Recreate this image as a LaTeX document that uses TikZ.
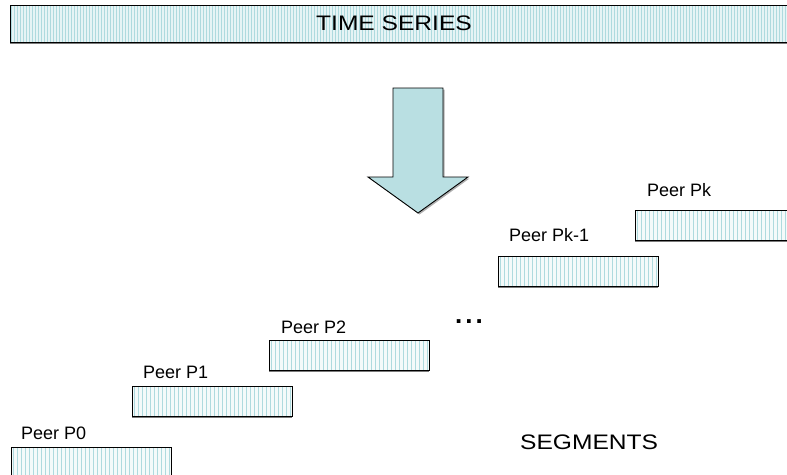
\documentclass[tikz,border=0pt]{standalone}
\usepackage{fontspec}
\setmainfont{Liberation Sans}
\newfontfamily\widesans[FakeStretch=1.17]{Liberation Sans}
\usetikzlibrary{shadows}
\definecolor{stripe}{HTML}{AEDADE}
\definecolor{lightfill}{HTML}{E6F4F5}
\definecolor{segfill}{HTML}{F4FAFA}
\definecolor{arrowfill}{HTML}{B9DFE2}
\definecolor{shadowgray}{HTML}{7A7A7A}
\tikzset{
  stripes/.style n args={3}{path picture={
      \foreach \i in {#1,#2,...,800}
        \draw[stripe, line width=#3]
          ([xshift=\i pt]path picture bounding box.north west) --
          ([xshift=\i pt]path picture bounding box.south west);}},
  segbox/.style={draw=black, line width=0.9pt, fill=segfill, minimum width=160pt, minimum height=30pt,
    inner sep=0pt, outer sep=0pt, anchor=north west,
    drop shadow={shadow xshift=0pt, shadow yshift=-1.6pt, fill=shadowgray, opacity=1},
    stripes={2.5}{6.5}{1.2pt}},
  peerlabel/.style={anchor=base west, inner sep=0pt, font=\fontsize{18}{20}\selectfont},
  bigtext/.style={inner sep=0pt, font=\widesans\fontsize{21}{24}\selectfont}
}
\begin{document}
\begin{tikzpicture}[x=1pt,y=-1pt]
\useasboundingbox (0,0) rectangle (787,474);
\clip (0,0) rectangle (787,474);
% top bar
\node[draw=black, line width=0.9pt, fill=lightfill, minimum width=790pt, minimum height=37pt,
  inner sep=0pt, outer sep=0pt, anchor=north west,
  drop shadow={shadow xshift=0pt, shadow yshift=-1.8pt, fill=shadowgray, opacity=1},
  stripes={1.5}{4.5}{1.0pt}] (bar) at (10,5) {};
\node[bigtext, anchor=base] (ts) at (394,30) {TIME SERIES};
% arrow
\fill[shadowgray!60] (394.5,89.5) -- (444.5,89.5) -- (444.5,178.5) -- (469.5,178.5) -- (419.5,214.5) -- (369.5,178.5) -- (394.5,178.5) -- cycle;
\draw[fill=arrowfill, line width=0.9pt, line join=miter] (393,88) -- (443,88) -- (443,177) -- (468,177) -- (418,213) -- (368,177) -- (393,177) -- cycle;
% segments
\node[segbox] (s0) at (11,447) {};
\node[segbox] (s1) at (132,386) {};
\node[segbox] (s2) at (269,340) {};
\node[segbox] (sk1) at (498,256) {};
\node[segbox] (sk) at (635,210) {};
% labels
\node[peerlabel] (l0) at (21,439) {Peer P0};
\node[peerlabel] (l1) at (143,378) {Peer P1};
\node[peerlabel] (l2) at (281,333) {Peer P2};
\node[peerlabel] (lk1) at (509,241) {Peer Pk-1};
\node[peerlabel] (lk) at (647,196) {Peer Pk};
\node[anchor=base, inner sep=0pt, font=\bfseries\fontsize{26}{28}\selectfont] (dots) at (469,323) {.\hspace{3pt}.\hspace{3pt}.};
\node[bigtext, anchor=base west] (seg) at (520,449) {SEGMENTS};
\end{tikzpicture}
\end{document}
